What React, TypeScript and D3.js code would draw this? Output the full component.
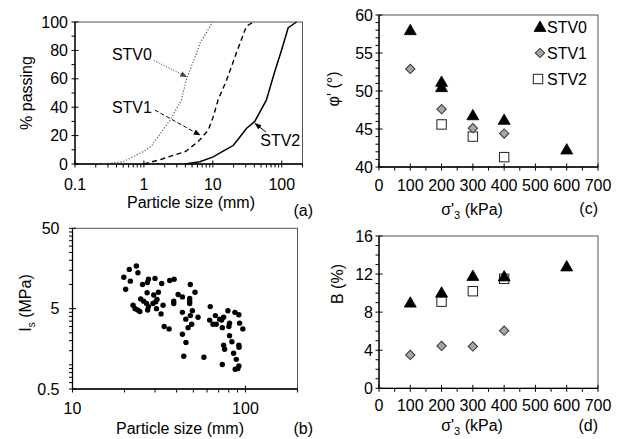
import React from 'react';
import * as d3 from 'd3';

const FONT = '"Liberation Sans", Arial, sans-serif';
const FS = 16;

// (a) grading curves: particle size (mm) vs % passing
const stv0Size = [0.25, 0.5, 1.0, 1.29, 2.4, 3.5, 4.1, 5.8, 6.5, 10];
const stv0Pass = [0, 1.6, 9, 12.7, 31, 45, 59, 78, 85, 100];
const stv1Size = [1.0, 1.7, 4.1, 6.5, 8.6, 10.1, 11.9, 15.8, 21.9, 30.7, 38.5];
const stv1Pass = [0, 3, 9, 17, 24, 33, 45, 59, 78, 97, 100];
const stv2Size = [3.9, 6.5, 10.1, 14.1, 19.7, 24.7, 30.7, 40.6, 59.7, 79, 99, 124, 164];
const stv2Pass = [0, 1.6, 5, 9, 13, 19, 25, 30, 45, 65, 80, 96, 100];

// (b) point load index vs particle size
const isSize = [19.8, 21.3, 23.4, 23.9, 20.3, 21.6, 22.4, 23.0, 23.8, 24.5, 24.8, 25.4, 25.8, 26.8, 27.1, 27.5, 27.2, 27.5, 27.0, 29.2,
  29.5, 30.0, 30.3, 30.6, 30.8, 31.4, 32.8, 32.5, 33.4, 33.9, 36.2, 36.5, 38.7, 38.5, 38.5, 40.8, 43.2, 43.2, 43.2, 44.0,
  45.2, 45.3, 46.6, 48.0, 47.6, 47.6, 47.6, 48.0, 49.3, 48.9, 51.1, 53.2, 57.5, 62.6, 62.1, 64.9, 67.0, 67.8, 70.9, 72.8,
  73.5, 74.8, 79.2, 80.9, 80.2, 80.9, 83.5, 74.8, 75.8, 73.5, 86.9, 85.4, 88.5, 87.3, 90.4, 91.6, 91.6, 92.5, 91.6, 91.8, 96.6];
const isVal = [12.3, 15.4, 17.0, 14.0, 8.7, 11.0, 5.5, 5.0, 4.8, 4.6, 6.6, 10.0, 6.2, 5.8, 10.6, 11.6, 4.8, 5.3, 7.9, 5.8,
  7.4, 11.9, 6.1, 5.0, 6.5, 8.0, 10.3, 4.3, 5.5, 3.0, 2.8, 11.2, 11.6, 6.2, 5.8, 7.5, 7.0, 4.5, 2.4, 1.28,
  3.7, 1.9, 2.9, 10.0, 6.7, 6.2, 5.8, 4.1, 4.7, 3.2, 8.0, 3.9, 1.24, 5.3, 3.6, 3.2, 4.1, 3.2, 3.7, 3.6,
  2.9, 3.9, 4.7, 3.3, 3.0, 2.3, 1.94, 1.75, 1.56, 1.01, 4.5, 1.39, 1.17, 0.88, 0.90, 0.97, 4.2, 3.3, 1.75, 1.65, 2.8];

// (c) friction angle and (d) breakage vs confining stress
const sigSTV0 = [100, 200, 200, 300, 400, 600];
const phiSTV0 = [58.0, 51.2, 50.5, 46.8, 46.2, 42.3];
const sigSTV1 = [100, 200, 300, 400];
const phiSTV1 = [52.9, 47.6, 45.1, 44.4];
const sigSTV2 = [200, 300, 400];
const phiSTV2 = [45.6, 44.0, 41.3];

const bSigSTV0 = [100, 200, 300, 400, 600];
const bSTV0 = [9.0, 10.05, 11.8, 11.75, 12.8];
const bSigSTV1 = [100, 200, 300, 400];
const bSTV1 = [3.5, 4.45, 4.4, 6.05];
const bSigSTV2 = [200, 300, 400];
const bSTV2 = [9.1, 10.2, 11.5];

const legendLabels = ['STV0', 'STV1', 'STV2'];

type Sc = (v: number) => number;

function Frame({ x0, x1, y0, y1 }: { x0: number; x1: number; y0: number; y1: number }) {
  return (
    <g>
      <rect x={x0} y={y0} width={x1 - x0} height={y1 - y0} fill="none" stroke="#555" strokeWidth={1} />
      <line x1={x0} x2={x0} y1={y0} y2={y1} stroke="#000" strokeWidth={1.3} />
      <line x1={x0} x2={x1} y1={y1} y2={y1} stroke="#000" strokeWidth={1.3} />
    </g>
  );
}

function XTicks({ sc, major, minor, y, labels, labelDy }: { sc: Sc; major: number[]; minor: number[]; y: number; labels: string[]; labelDy: number }) {
  return (
    <g>
      {minor.map((v, i) => (
        <line key={'m' + i} x1={sc(v)} x2={sc(v)} y1={y} y2={y + 3.5} stroke="#000" strokeWidth={1} />
      ))}
      {major.map((v, i) => (
        <line key={'M' + i} x1={sc(v)} x2={sc(v)} y1={y - 3.5} y2={y + 3.5} stroke="#000" strokeWidth={1} />
      ))}
      {major.map((v, i) => (
        <text key={'t' + i} x={sc(v)} y={y + labelDy} dy="0.35em" textAnchor="middle" fontSize={FS} fontFamily={FONT}>
          {labels[i]}
        </text>
      ))}
    </g>
  );
}

function YTicks({ sc, major, minor, x, labels, labelDx }: { sc: Sc; major: number[]; minor: number[]; x: number; labels: string[]; labelDx: number }) {
  return (
    <g>
      {minor.map((v, i) => (
        <line key={'m' + i} x1={x - 3.5} x2={x} y1={sc(v)} y2={sc(v)} stroke="#000" strokeWidth={1} />
      ))}
      {major.map((v, i) => (
        <line key={'M' + i} x1={x - 3.5} x2={x + 3.5} y1={sc(v)} y2={sc(v)} stroke="#000" strokeWidth={1} />
      ))}
      {major.map((v, i) => (
        <text key={'t' + i} x={x - labelDx} y={sc(v)} dy="0.35em" textAnchor="end" fontSize={FS} fontFamily={FONT}>
          {labels[i]}
        </text>
      ))}
    </g>
  );
}

function Tri({ x, y }: { x: number; y: number }) {
  const p = d3.symbol(d3.symbolTriangle, 62)() as string;
  return <path d={p} transform={`translate(${x},${y + 1})`} fill="#000" stroke="#000" strokeWidth={0.8} />;
}
function Dia({ x, y }: { x: number; y: number }) {
  return <rect x={-3.3} y={-3.3} width={6.6} height={6.6} transform={`translate(${x},${y}) rotate(45)`} fill="#a6a6a6" stroke="#333" strokeWidth={1} />;
}
function Sq({ x, y }: { x: number; y: number }) {
  return <rect x={x - 4.7} y={y - 4.7} width={9.4} height={9.4} fill="#fff" stroke="#222" strokeWidth={1} />;
}

function logMinor(lo: number, hi: number): number[] {
  const out: number[] = [];
  for (let e = -2; e < 4; e++) {
    for (let m = 2; m <= 9; m++) {
      const v = m * Math.pow(10, e);
      if (v > lo * 1.0001 && v <= hi * 1.0001) out.push(v);
    }
  }
  return out;
}

export default function App() {
  // Panel (a)
  const xa = d3.scaleLog().domain([0.1, 200]).range([75, 302.5]);
  const ya = d3.scaleLinear().domain([0, 100]).range([164, 22]);
  const lineA = d3.line<[number, number]>().x((d) => xa(d[0])).y((d) => ya(d[1]));
  const c0 = lineA(stv0Size.map((s, i) => [s, stv0Pass[i]] as [number, number])) as string;
  const c1 = lineA(stv1Size.map((s, i) => [s, stv1Pass[i]] as [number, number])) as string;
  const c2 = lineA(stv2Size.map((s, i) => [s, stv2Pass[i]] as [number, number])) as string;

  // Panel (b)
  const xb = d3.scaleLog().domain([10, 200]).range([72.5, 297.5]);
  const yb = d3.scaleLog().domain([0.5, 50]).range([389, 228.3]);
  const ybMinor: number[] = [];
  for (let v = 1; v <= 4.5; v += 0.5) ybMinor.push(v);
  [0.6, 0.7, 0.8, 0.9].forEach((v) => ybMinor.push(v));
  for (let v = 10; v <= 45; v += 5) ybMinor.push(v);
  const ybMinorF = ybMinor.filter((v) => v !== 5);

  // Panel (c)
  const xc = d3.scaleLinear().domain([0, 700]).range([379, 598]);
  const yc = d3.scaleLinear().domain([40, 60]).range([167, 15]);
  // Panel (d)
  const yd = d3.scaleLinear().domain([0, 16]).range([388.3, 236]);

  const sigMajor = d3.range(0, 701, 100);
  const sigMinor = d3.range(50, 700, 100);

  return (
    <svg width={620} height={439} style={{ position: 'absolute', left: 0, top: 0, background: '#fff' }} fontFamily={FONT}>
      <defs>
        <marker id="ah" viewBox="0 0 10 10" refX="9" refY="5" markerWidth="7" markerHeight="7" orient="auto">
          <path d="M0,1 L10,5 L0,9 Z" fill="#000" />
        </marker>
        <marker id="ahg" viewBox="0 0 10 10" refX="9" refY="5" markerWidth="7" markerHeight="7" orient="auto">
          <path d="M0,1 L10,5 L0,9 Z" fill="#444" />
        </marker>
      </defs>
      <rect width={620} height={439} fill="#fff" />

      {/* ---------- Panel (a) ---------- */}
      <Frame x0={75} x1={302.5} y0={22} y1={164} />
      <path d={c0} fill="none" stroke="#555" strokeWidth={1.2} strokeDasharray="1.2,1.8" />
      <path d={c1} fill="none" stroke="#000" strokeWidth={1.4} strokeDasharray="5,3.5" />
      <path d={c2} fill="none" stroke="#000" strokeWidth={1.5} />
      <XTicks sc={xa} major={[0.1, 1, 10, 100]} minor={logMinor(0.1, 200)} y={164} labels={['0.1', '1', '10', '100']} labelDy={20} />
      <YTicks sc={ya} major={[0, 20, 40, 60, 80, 100]} minor={[10, 30, 50, 70, 90]} x={75} labels={['0', '20', '40', '60', '80', '100']} labelDx={7} />
      <text x={191} y={202} dy="0.35em" textAnchor="middle" fontSize={FS}>Particle size (mm)</text>
      <text transform="translate(26,93) rotate(-90)" dy="0.35em" textAnchor="middle" fontSize={FS}>% passing</text>
      <text x={313} y={210} dy="0.35em" textAnchor="end" fontSize={FS}>(a)</text>
      <text x={xa(0.67)} y={ya(77)} dy="0.35em" textAnchor="middle" fontSize={FS}>STV0</text>
      <line x1={xa(1.39)} y1={ya(73)} x2={xa(4.15)} y2={ya(61.5)} stroke="#555" strokeWidth={1} strokeDasharray="1.2,1.5" markerEnd="url(#ahg)" />
      <text x={xa(0.67)} y={ya(40)} dy="0.35em" textAnchor="middle" fontSize={FS}>STV1</text>
      <line x1={xa(1.44)} y1={ya(38)} x2={xa(6.5)} y2={ya(20.4)} stroke="#000" strokeWidth={1} strokeDasharray="4,2.5" markerEnd="url(#ah)" />
      <text x={xa(95)} y={ya(16.5)} dy="0.35em" textAnchor="middle" fontSize={FS}>STV2</text>
      <line x1={xa(59)} y1={ya(22.5)} x2={xa(41)} y2={ya(28.5)} stroke="#000" strokeWidth={1} markerEnd="url(#ah)" />

      {/* ---------- Panel (b) ---------- */}
      <Frame x0={72.5} x1={297.5} y0={228.3} y1={389} />
      <XTicks sc={xb} major={[10, 100]} minor={logMinor(10, 200)} y={389} labels={['10', '100']} labelDy={19} />
      <YTicks sc={yb} major={[0.5, 5, 50]} minor={ybMinorF} x={72.5} labels={['0.5', '5', '50']} labelDx={13} />
      {isSize.map((s, i) => (
        <circle key={i} cx={xb(s)} cy={yb(isVal[i])} r={2.7} fill="#000" />
      ))}
      <text x={180} y={428} dy="0.35em" textAnchor="middle" fontSize={FS}>Particle size (mm)</text>
      <text transform="translate(25,303) rotate(-90)" dy="0.35em" textAnchor="middle" fontSize={FS}>
        I<tspan fontSize={10} dy="4">s</tspan><tspan dy="-4"> (MPa)</tspan>
      </text>
      <text x={313} y={428} dy="0.35em" textAnchor="end" fontSize={FS}>(b)</text>

      {/* ---------- Panel (c) ---------- */}
      <Frame x0={379} x1={598} y0={15} y1={167} />
      <XTicks sc={xc} major={sigMajor} minor={sigMinor} y={167} labels={sigMajor.map(String)} labelDy={18} />
      <YTicks sc={yc} major={[40, 45, 50, 55, 60]} minor={d3.range(41, 60).filter((v) => v % 5 !== 0)} x={379} labels={['40', '45', '50', '55', '60']} labelDx={6} />
      {sigSTV2.map((s, i) => <Sq key={'c2' + i} x={xc(s)} y={yc(phiSTV2[i])} />)}
      {sigSTV1.map((s, i) => <Dia key={'c1' + i} x={xc(s)} y={yc(phiSTV1[i])} />)}
      {sigSTV0.map((s, i) => <Tri key={'c0' + i} x={xc(s)} y={yc(phiSTV0[i])} />)}
      <Tri x={540} y={27} />
      <Dia x={540} y={53} />
      <Sq x={538} y={79} />
      {legendLabels.map((l, i) => (
        <text key={l} x={547} y={27 + i * 26} dy="0.35em" fontSize={FS}>{l}</text>
      ))}
      <text x={472} y={209} dy="0.35em" textAnchor="middle" fontSize={FS}>
        σ'<tspan fontSize={11} dy="4">3</tspan><tspan dy="-4"> (kPa)</tspan>
      </text>
      <text transform="translate(333,89) rotate(-90)" dy="0.35em" textAnchor="middle" fontSize={FS}>φ' (°)</text>
      <text x={598} y={208} dy="0.35em" textAnchor="end" fontSize={FS}>(c)</text>

      {/* ---------- Panel (d) ---------- */}
      <Frame x0={379} x1={598} y0={236} y1={388.3} />
      <XTicks sc={xc} major={sigMajor} minor={sigMinor} y={388.3} labels={sigMajor.map(String)} labelDy={17} />
      <YTicks sc={yd} major={[0, 4, 8, 12, 16]} minor={d3.range(1, 16).filter((v) => v % 4 !== 0)} x={379} labels={['0', '4', '8', '12', '16']} labelDx={6} />
      {bSigSTV1.map((s, i) => <Dia key={'d1' + i} x={xc(s)} y={yd(bSTV1[i])} />)}
      {bSigSTV2.map((s, i) => <Sq key={'d2' + i} x={xc(s)} y={yd(bSTV2[i])} />)}
      {bSigSTV0.map((s, i) => <Tri key={'d0' + i} x={xc(s)} y={yd(bSTV0[i])} />)}
      <text x={472} y={425} dy="0.35em" textAnchor="middle" fontSize={FS}>
        σ'<tspan fontSize={11} dy="4">3</tspan><tspan dy="-4"> (kPa)</tspan>
      </text>
      <text transform="translate(337,284) rotate(-90)" dy="0.35em" textAnchor="middle" fontSize={FS}>B (%)</text>
      <text x={598} y={425} dy="0.35em" textAnchor="end" fontSize={FS}>(d)</text>
    </svg>
  );
}
